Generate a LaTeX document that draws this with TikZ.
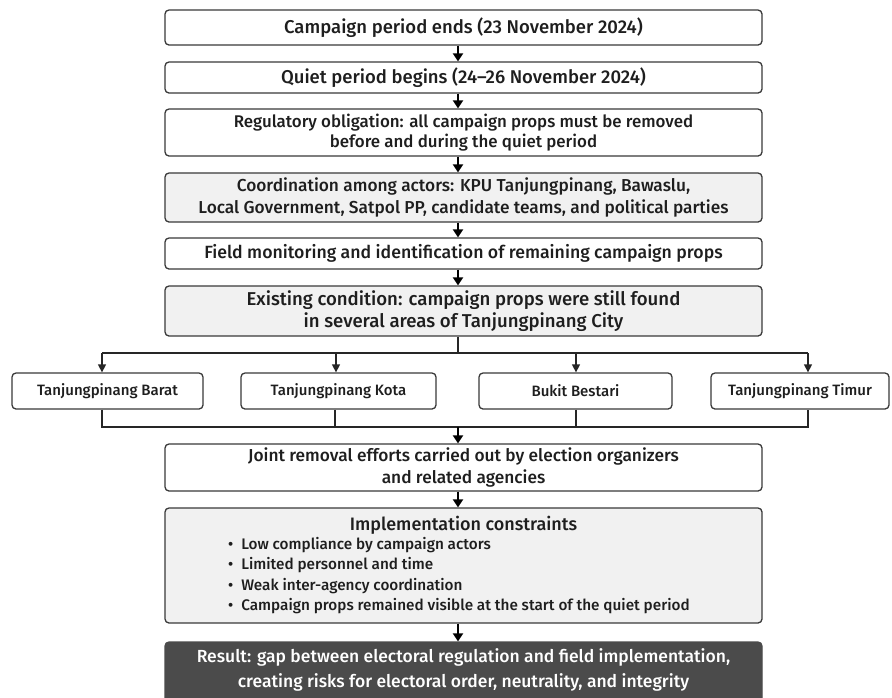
\documentclass[tikz,border=0pt]{standalone}
\usepackage{fontspec}
\IfFontExistsTF{Fira Sans Medium}{\setmainfont{Fira Sans}[BoldFont={Fira Sans Medium}]}{\IfFontExistsTF{Fira Sans SemiBold}{\setmainfont{Fira Sans}[BoldFont={Fira Sans SemiBold}]}{\setmainfont{Fira Sans}}}
\usetikzlibrary{arrows.meta}
\definecolor{bord}{HTML}{3A3A3A}
\definecolor{txt}{HTML}{1E1E1E}
\definecolor{lgray}{HTML}{F1F1F1}
\definecolor{dgray}{HTML}{4B4B4B}
\newcommand{\fsz}[1]{\bfseries\fontsize{#1}{1.22\dimexpr #1pt\relax}\selectfont}
\begin{document}
\begin{tikzpicture}[x=1pt,y=-1pt,
  box/.style={draw=bord, line width=1.3pt, rounded corners=4pt, fill=white, align=center, inner sep=0pt, text=txt, font=\fsz{17.3}, minimum width=597pt},
  graybox/.style={box, fill=lgray},
  smallbox/.style={box, minimum width=0pt, font=\fsz{15}},
  arr/.style={draw=black, line width=2pt, -{Triangle[width=10pt,length=8pt]}},
  brline/.style={draw=black!85, line width=1.4pt},
  brarr/.style={brline, -{Triangle[width=8pt,length=8pt]}},
  lbl/.style={inner sep=0pt, text=txt, align=left}
]
\clip (0,0) rectangle (892,697);
\fill[white] (0,0) rectangle (892,697);
\coordinate (ax) at (458,0);
\node[box, minimum height=35pt, font=\fsz{18.5}] (b1) at (463.5,27.5) {Campaign period ends (23 November 2024)};
\node[box, minimum height=31pt, font=\fsz{18.5}] (b2) at (463.5,77.5) {Quiet period begins (24--26 November 2024)};
\node[box, minimum height=47pt, font=\fsz{16.9}] (b3) at (463.5,132.5) {Regulatory obligation: all campaign props must be removed\\before and during the quiet period};
\node[graybox, minimum height=49pt] (b4) at (463.5,197.5) {Coordination among actors: KPU Tanjungpinang, Bawaslu,\\Local Government, Satpol PP, candidate teams, and political parties};
\node[box, minimum height=31pt, font=\fsz{17.7}] (b5) at (463.5,253.5) {Field monitoring and identification of remaining campaign props};
\node[graybox, minimum height=50pt, font=\fsz{18.6}] (b6) at (463.5,311) {Existing condition: campaign props were still found\\in several areas of Tanjungpinang City};
\node[smallbox, minimum width=191pt, minimum height=36pt] (bA) at (107.5,391) {Tanjungpinang Barat};
\node[smallbox, minimum width=195pt, minimum height=36pt] (bB) at (338.5,391) {Tanjungpinang Kota};
\node[smallbox, minimum width=193pt, minimum height=36pt] (bC) at (575.5,391) {Bukit Bestari};
\node[smallbox, minimum width=178pt, minimum height=36pt] (bD) at (800,391) {Tanjungpinang Timur};
\node[box, minimum height=47pt] (b7) at (463.5,467.5) {Joint removal efforts carried out by election organizers\\and related agencies};
\node[graybox, minimum height=115pt] (b8) at (463.5,565.5) {};
\node[lbl, font=\fsz{18}] (t8) at (463.5,525) {Implementation constraints};
\node[lbl, anchor=north west, font=\bfseries\fontsize{15.3}{20.4}\selectfont] (l8) at (228,537) {•\hspace{8pt}Low compliance by campaign actors\\•\hspace{8pt}Limited personnel and time\\•\hspace{8pt}Weak inter-agency coordination\\•\hspace{8pt}Campaign props remained visible at the start of the quiet period};
\node[box, fill=dgray, draw=dgray, minimum height=70pt] (b9) at (463.5,677) {};
\node[lbl, text=white, align=center, font=\bfseries\fontsize{17.5}{25}\selectfont] (t9) at (463.5,670) {Result: gap between electoral regulation and field implementation,\\creating risks for electoral order, neutrality, and integrity};
% arrows in the main column
\draw[arr] (b1.south -| ax) -- (b2.north -| ax);
\draw[arr] (b2.south -| ax) -- (b3.north -| ax);
\draw[arr] (b3.south -| ax) -- (b4.north -| ax);
\draw[arr] (b4.south -| ax) -- (b5.north -| ax);
\draw[arr] (b5.south -| ax) -- (b6.north -| ax);
% branching
\coordinate (tA) at (102,353);
\coordinate (tB) at (336,353);
\coordinate (tC) at (576,353);
\coordinate (tD) at (808,353);
\coordinate (uA) at (102,427);
\coordinate (uB) at (335,427);
\coordinate (uC) at (576,427);
\coordinate (uD) at (808,427);
\draw[brline] (b6.south -| ax) -- (ax |- tA);
\draw[brline] (tA) -- (tD);
\draw[brarr] (tA) -- (tA |- bA.north);
\draw[brarr] (tB) -- (tB |- bB.north);
\draw[brarr] (tC) -- (tC |- bC.north);
\draw[brarr] (tD) -- (tD |- bD.north);
\draw[brline] (uA |- bA.south) -- (uA) -- (uD) -- (uD |- bD.south);
\draw[brline] (uB |- bB.south) -- (uB);
\draw[brline] (uC |- bC.south) -- (uC);
\draw[arr] (ax |- uA) -- (b7.north -| ax);
\draw[arr] (b7.south -| ax) -- (b8.north -| ax);
\draw[arr] (b8.south -| ax) -- (b9.north -| ax);
\end{tikzpicture}
\end{document}
